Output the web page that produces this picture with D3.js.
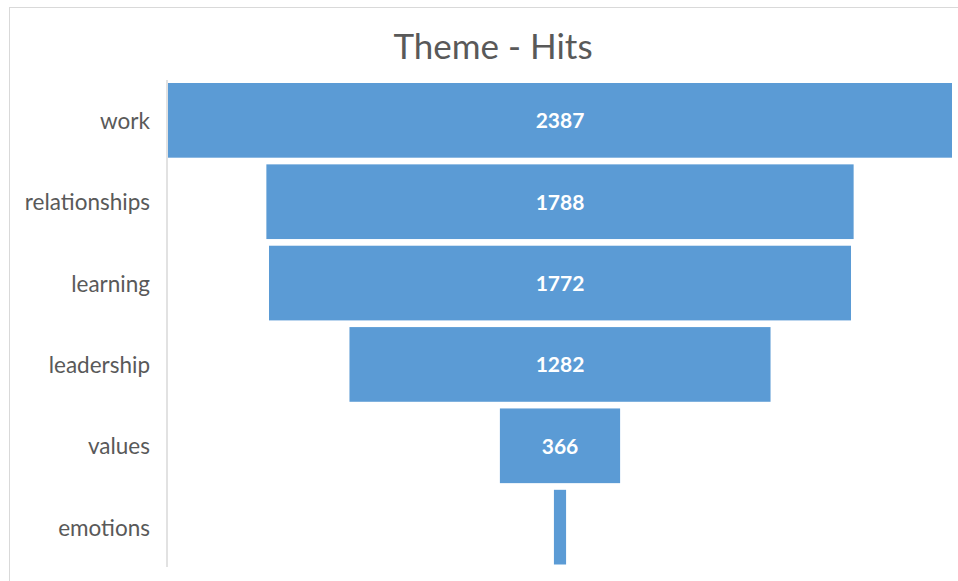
<!DOCTYPE html>
<html>
<head>
<meta charset="utf-8">
<script src="https://cdn.jsdelivr.net/npm/d3@7"></script>
<style>
  html, body { margin: 0; padding: 0; background: #fff; }
  svg { display: block; }
</style>
</head>
<body>
<svg id="chart" width="958" height="581"></svg>
<script>
const title = "Theme - Hits";
const categories = ["work", "relationships", "learning", "leadership", "values", "emotions"];
const hits = [2387, 1788, 1772, 1282, 366, 37];

const W = 958, H = 581;
const svg = d3.select("#chart");
const font = "Lato, 'Open Sans', sans-serif";

// outer chart border
svg.append("rect")
  .attr("x", 9.5).attr("y", 7.5)
  .attr("width", W + 10).attr("height", H + 10)
  .attr("fill", "#fff").attr("stroke", "#d9d9d9").attr("stroke-width", 1);

// title
svg.append("text")
  .attr("x", 493).attr("y", 59)
  .attr("text-anchor", "middle")
  .attr("font-family", font)
  .attr("font-size", 35)
  .attr("fill", "#595959")
  .text(title);

const centerX = 560;
const halfWidth = 392;
const x = d3.scaleLinear().domain([0, d3.max(hits)]).range([0, 2 * halfWidth]);
const y = d3.scaleBand().domain(categories).range([83, 564.5]).paddingInner(0.082).paddingOuter(0);

const data = categories.map((c, i) => ({ cat: c, v: hits[i] }));

// bars
svg.append("g").selectAll("rect")
  .data(data).join("rect")
  .attr("x", d => centerX - x(d.v) / 2)
  .attr("y", d => y(d.cat))
  .attr("width", d => x(d.v))
  .attr("height", y.bandwidth())
  .attr("fill", "#5b9bd5");

// category axis line
svg.append("line")
  .attr("x1", 167).attr("x2", 167)
  .attr("y1", 80).attr("y2", 567)
  .attr("stroke", "#d9d9d9").attr("stroke-width", 1.5);

// category labels
svg.append("g").selectAll("text")
  .data(data).join("text")
  .attr("x", 150)
  .attr("y", d => y(d.cat) + y.bandwidth() / 2)
  .attr("dy", "0.38em")
  .attr("text-anchor", "end")
  .attr("font-family", font)
  .attr("font-size", 22.5)
  .attr("fill", "#595959")
  .text(d => d.cat);

// value labels
svg.append("g").selectAll("text")
  .data(data.filter(d => x(d.v) > 60)).join("text")
  .attr("x", centerX)
  .attr("y", d => y(d.cat) + y.bandwidth() / 2)
  .attr("dy", "0.38em")
  .attr("text-anchor", "middle")
  .attr("font-family", font)
  .attr("font-weight", "bold")
  .attr("font-size", 21)
  .attr("fill", "#ffffff")
  .text(d => d.v);
</script>
</body>
</html>
